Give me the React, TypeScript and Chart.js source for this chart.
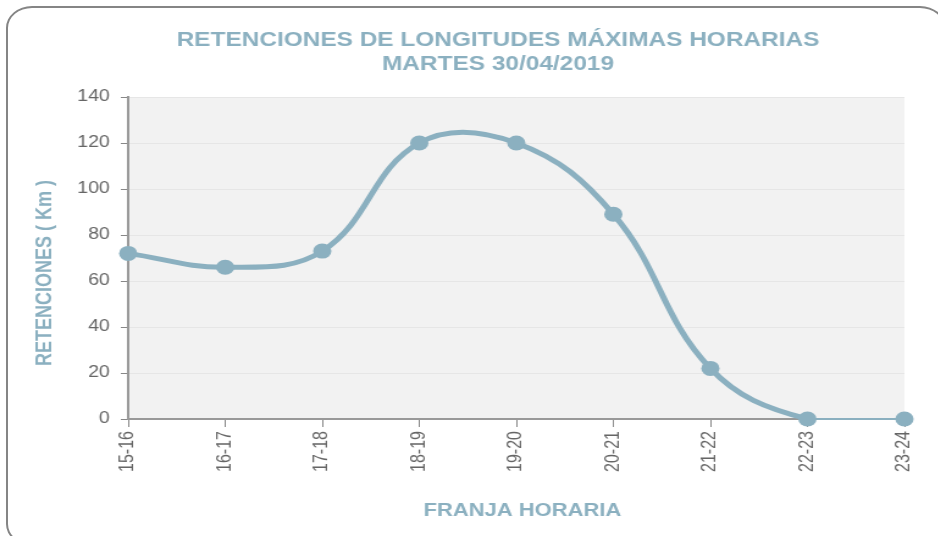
import React, { useEffect, useRef } from "react";
import { Chart, registerables } from "chart.js";

Chart.register(...registerables);

const categories = ["15-16", "16-17", "17-18", "18-19", "19-20", "20-21", "21-22", "22-23", "23-24"];
const retenciones = [72, 66, 73, 120, 120, 89, 22, 0, 0];
const titleLines = ["RETENCIONES DE LONGITUDES MÁXIMAS HORARIAS", "MARTES 30/04/2019"];
const yTitle = "RETENCIONES ( Km )      ";
const xTitle = "  FRANJA HORARIA";

const FONT = "'Liberation Sans', Arial, sans-serif";
const ACCENT = "#8bb0c0";
const STRETCH = 1.22;
const W = 938;
const H = 536;
const IW = 816; // internal canvas width (wider than the view, clipped)
const PLOT_LEFT = Math.round(128 / STRETCH);
const PLOT_RIGHT = Math.round(904 / STRETCH);

const plotBg = {
  id: "plotBg",
  beforeDraw(chart: any) {
    const { ctx, chartArea } = chart;
    ctx.save();
    ctx.fillStyle = "#f2f2f2";
    ctx.fillRect(chartArea.left, chartArea.top, chartArea.right - chartArea.left, chartArea.bottom - chartArea.top);
    ctx.restore();
  },
};

export default function App() {
  const ref = useRef<HTMLCanvasElement>(null);
  useEffect(() => {
    if (!ref.current) return;
    const chart = new Chart(ref.current, {
      type: "line",
      data: {
        labels: categories,
        datasets: [
          {
            data: retenciones,
            yAxisID: "y",
            borderColor: ACCENT,
            backgroundColor: ACCENT,
            borderWidth: 5,
            tension: 0.4,
            pointRadius: 7.5,
            pointHoverRadius: 7.5,
            pointBorderWidth: 0,
            pointBackgroundColor: ACCENT,
            clip: false as any,
            segment: {
              borderWidth: (c: any) => (c.p1DataIndex === 8 ? 2 : 5),
            },
          },
        ],
      },
      options: {
        animation: false,
        responsive: false,
        devicePixelRatio: 1,
        layout: { padding: { left: 0, right: 0, top: 0, bottom: 10 } },
        plugins: {
          legend: { display: false },
          tooltip: { enabled: false },
          title: {
            display: true,
            text: titleLines,
            color: ACCENT,
            font: { family: FONT, size: 20, weight: "bold", lineHeight: 1.2 },
            padding: { top: 28, bottom: 21 },
          },
        },
        scales: {
          x: {
            type: "category",
            offset: false,
            grid: { display: true, drawOnChartArea: false, tickLength: 8, tickColor: "#888", color: "#888" },
            border: { color: "#999", width: 2 },
            ticks: {
              color: "#666",
              font: { family: FONT, size: 16 },
              maxRotation: 90,
              minRotation: 90,
              padding: 4,
              autoSkip: false,
            },
            title: {
              display: true,
              text: xTitle,
              color: ACCENT,
              font: { family: FONT, size: 18, weight: "bold" },
              padding: { top: 4, bottom: 4 },
            },
            afterFit: (s: any) => {
              s.height = 107;
            },
          },
          y: {
            position: "left",
            min: 0,
            max: 140,
            ticks: {
              stepSize: 20,
              color: "#666",
              font: { family: FONT, size: 16 },
              padding: 9,
            },
            grid: { color: "#e6e6e6", tickColor: "#888", tickLength: 6 },
            border: { color: "#999", width: 2 },
            title: {
              display: true,
              text: yTitle,
              color: ACCENT,
              font: { family: FONT, size: 18, weight: "bold" },
              padding: { top: 26, bottom: 4 },
            },
            afterFit: (s: any) => {
              s.width = PLOT_LEFT;
            },
          },
          spacer: {
            type: "linear",
            position: "right",
            display: true,
            grid: { display: false, drawTicks: false },
            border: { display: false },
            ticks: { display: false },
            afterFit: (s: any) => {
              s.width = IW - PLOT_RIGHT;
            },
          },
        },
      },
      plugins: [plotBg],
    });
    return () => chart.destroy();
  }, []);

  return (
    <div style={{ position: "absolute", left: 0, top: 0, width: W, height: H, overflow: "hidden", background: "#fff" }}>
      <div
        style={{
          position: "absolute",
          left: 6,
          top: 6,
          width: 940,
          height: 540,
          border: "2.5px solid #858585",
          borderRadius: "26px / 22px",
          boxSizing: "border-box",
        }}
      />
      <canvas
        ref={ref}
        width={IW}
        height={H}
        style={{ position: "absolute", left: 0, top: 0, width: IW * STRETCH, height: H }}
      />
    </div>
  );
}
